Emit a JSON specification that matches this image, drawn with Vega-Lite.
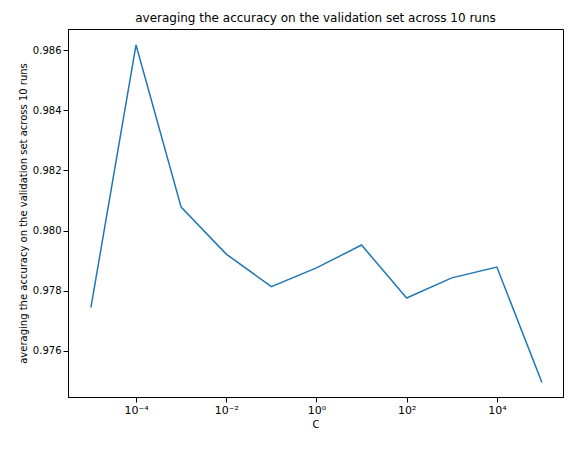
{
"$schema":"https://vega.github.io/schema/vega-lite/v6.json",
"width":495,"height":368,
"padding":{"left":18,"top":12,"right":10,"bottom":5},
"config":{"font":"DejaVu Sans","view":{"stroke":"black","strokeWidth":1},"axis":{"grid":false,"domainColor":"black","tickColor":"black","labelColor":"black","titleColor":"black","labelFontSize":10,"titleFontSize":10,"titleFontWeight":"normal"}},
"title":{"text":"averaging the accuracy on the validation set across 10 runs","fontSize":12,"fontWeight":"normal","color":"black"},
"data":{"values":[
{"C":0.00001,"acc":0.97745},{"C":0.0001,"acc":0.98617},{"C":0.001,"acc":0.98078},{"C":0.01,"acc":0.97922},{"C":0.1,"acc":0.97814},{"C":1,"acc":0.97876},{"C":10,"acc":0.97952},{"C":100,"acc":0.97776},{"C":1000,"acc":0.97843},{"C":10000,"acc":0.97879},{"C":100000,"acc":0.97495}]},
"mark":{"type":"line","color":"#1f77b4","strokeWidth":1.5},
"encoding":{
"x":{"field":"C","type":"quantitative","scale":{"type":"log","domain":[0.0000031,293000],"nice":false},"axis":{"values":[0.0001,0.01,1,100,10000],"labelExpr":"{'-4':'10⁻⁴','-2':'10⁻²','0':'10⁰','2':'10²','4':'10⁴'}[''+round(log(datum.value)/LN10)]","labelFlush":false,"labelFontSize":11,"title":"C"}},
"y":{"field":"acc","type":"quantitative","scale":{"domain":[0.97447,0.9867],"nice":false,"zero":false},"axis":{"values":[0.976,0.978,0.98,0.982,0.984,0.986],"format":".3f","title":"averaging the accuracy on the validation set across 10 runs"}}
}
}
